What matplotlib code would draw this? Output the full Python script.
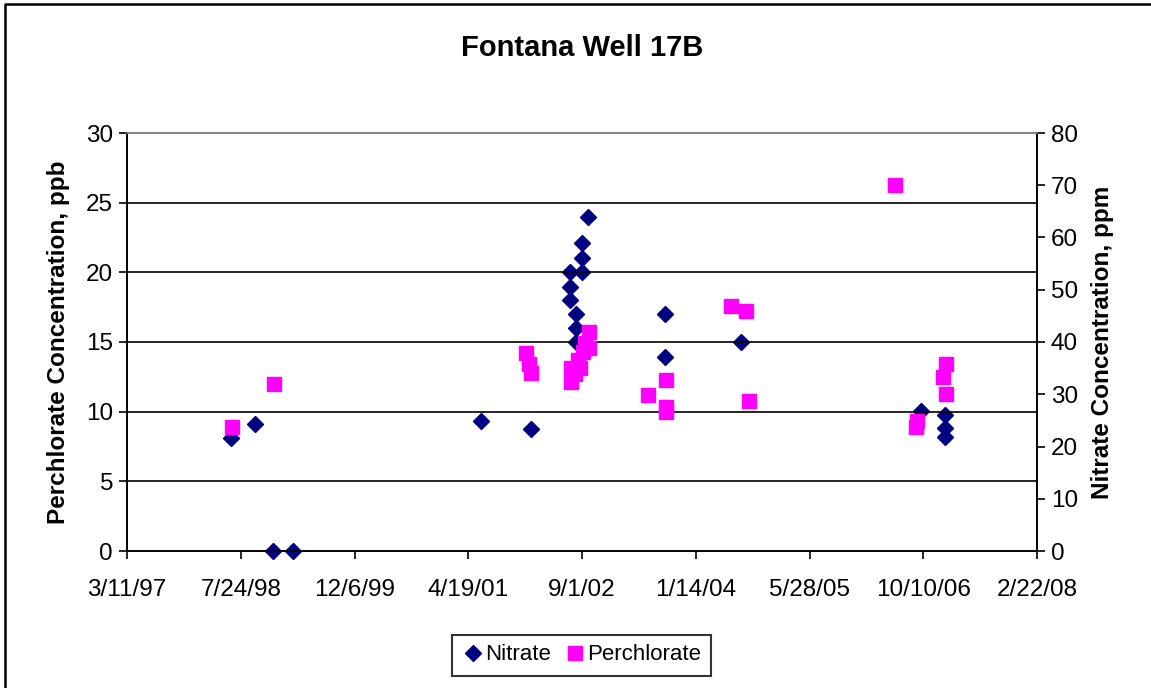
import datetime as dt

import matplotlib

matplotlib.use("Agg")
import matplotlib.pyplot as plt
from matplotlib.lines import Line2D

plt.rcParams["font.family"] = ["Liberation Sans", "DejaVu Sans"]

# nitrate, ppm (right axis)
nitrate_dates = [
    "1998-06-12", "1998-09-26", "1998-12-14", "1999-03-12", "2001-06-13", "2002-01-19",
    "2002-07-10", "2002-07-10", "2002-07-10", "2002-08-06", "2002-08-06", "2002-08-06",
    "2002-09-01", "2002-09-01", "2002-09-01", "2002-09-27",
    "2003-09-02", "2003-09-02", "2004-08-02",
    "2006-09-29", "2007-01-13", "2007-01-13", "2007-01-13",
]
nitrate_ppm = [
    21.6, 24.3, 0, 0, 24.9, 23.3,
    53.4, 50.5, 48.0, 45.4, 42.7, 40.0,
    58.9, 56.1, 53.4, 63.9,
    45.4, 37.1, 40.0,
    26.8, 26.0, 23.5, 21.8,
]

# perchlorate, ppb (left axis)
perc_dates = [
    "1998-06-16", "1998-12-18",
    "2001-12-28", "2002-01-11", "2002-01-19",
    "2002-07-15", "2002-07-15", "2002-08-01", "2002-08-14", "2002-08-23",
    "2002-09-05", "2002-09-14", "2002-10-02", "2002-10-02",
    "2003-06-19", "2003-09-06", "2003-09-06", "2003-09-06",
    "2004-06-18", "2004-08-23", "2004-09-06",
    "2006-06-06",
    "2006-09-11", "2006-09-07", "2007-01-17", "2007-01-04", "2007-01-17",
]
perc_ppb = [
    8.9, 12.0,
    14.2, 13.4, 12.8,
    13.1, 12.1, 12.7, 13.7, 13.1,
    14.3, 14.9, 14.6, 15.7,
    11.2, 12.3, 10.3, 10.0,
    17.6, 17.2, 10.8,
    26.3,
    9.3, 8.9, 13.4, 12.5, 11.3,
]

tick_dates = ["1997-03-11", "1998-07-24", "1999-12-06", "2001-04-19", "2002-09-01",
              "2004-01-14", "2005-05-28", "2006-10-10", "2008-02-22"]


def to_dt(s):
    return dt.datetime.strptime(s, "%Y-%m-%d")


def mdy(d):
    return f"{d.month}/{d.day}/{d.year % 100:02d}"


W, H = 1151, 688
fig = plt.figure(figsize=(W / 100, H / 100), dpi=100)
# chart-area frame: only left and top edges fall inside the picture
fig.add_artist(Line2D([5 / W, 5 / W, 1.0], [0.0, 1 - 3.5 / H, 1 - 3.5 / H],
                      transform=fig.transFigure, color="black", linewidth=1.8))

ax = fig.add_axes([127 / W, 1 - 551 / H, 910 / W, 418 / H])
ax2 = ax.twinx()

ticks = [to_dt(s) for s in tick_dates]
ax.set_xlim(ticks[0], ticks[-1])
ax.set_xticks(ticks)
ax.set_xticklabels([mdy(d) for d in ticks])

ax.set_ylim(0, 30)
ax.set_yticks(range(0, 31, 5))
ax2.set_ylim(0, 80)
ax2.set_yticks(range(0, 81, 10))

for y in range(5, 30, 5):
    ax.axhline(y, color="black", linewidth=1.2, zorder=0.5)

for a in (ax, ax2):
    a.tick_params(labelsize=17.5, direction="out", length=6, width=1.2, color="black", pad=4)
    for s in a.spines.values():
        s.set_color("black")
        s.set_linewidth(1.2)
    a.spines["top"].set_color("#808080")
ax.tick_params(axis="x", pad=14)

ax.set_ylabel("Perchlorate Concentration, ppb", fontsize=17.5, fontweight="bold")
ax.yaxis.set_label_coords(-57 / 910, 0.5)
ax2.set_ylabel("Nitrate Concentration, ppm", fontsize=17.5, fontweight="bold")
ax2.yaxis.set_label_coords(1 + 54 / 910, 0.5)
fig.text(0.5 * (127 + 1037) / W, 1 - 48 / H, "Fontana Well 17B", fontsize=21,
         fontweight="bold", ha="center", va="center")

h1 = ax2.plot([to_dt(s) for s in nitrate_dates], nitrate_ppm, linestyle="none", marker="D",
              markersize=8.5, color="#000080", label="Nitrate", clip_on=False, zorder=3)
h2 = ax.plot([to_dt(s) for s in perc_dates], perc_ppb, linestyle="none", marker="s",
             markersize=10, color="#FF00FF", label="Perchlorate", clip_on=False, zorder=3)
ax.set_zorder(ax2.get_zorder() + 1)
ax.patch.set_visible(False)

leg = fig.legend(handles=[h1[0], h2[0]], loc="center",
                 bbox_to_anchor=(581.5 / W, 1 - 655 / H), ncol=2,
                 fontsize=16, frameon=True, fancybox=False, handletextpad=0.05,
                 columnspacing=0.6, handlelength=1.0, borderpad=0.45, borderaxespad=0)
leg.get_frame().set_edgecolor("black")
leg.get_frame().set_linewidth(1.5)

fig.savefig("out.png", dpi=100)
